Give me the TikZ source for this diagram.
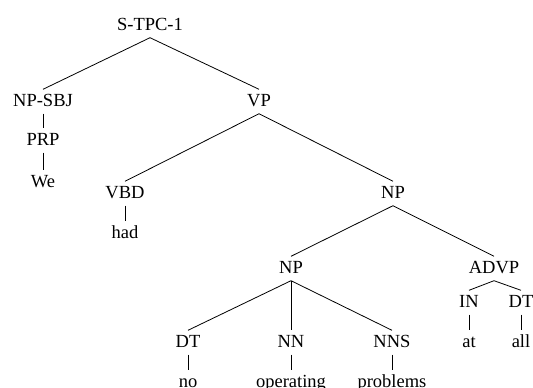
\documentclass[tikz,border=0pt]{standalone}
\usepackage{fontspec}
\setmainfont{Liberation Serif}
\begin{document}
\begin{tikzpicture}[x=1pt,y=-1pt,
  t/.style={anchor=base,text height=13pt,text depth=4pt,inner xsep=0pt,inner ysep=3.5pt,
    font=\fontsize{18.5}{20}\selectfont},
  edge/.style={draw=black,line width=0.8pt}]
\path[use as bounding box,clip] (0,0) rectangle (533,388);
\node[t] (s) at (150,30) {S-TPC-1};
\node[t] (npsbj) at (43,106) {NP-SBJ};
\node[t] (vp) at (259,106) {VP};
\node[t] (prp) at (43,145) {PRP};
\node[t] (we) at (43,187) {We};
\node[t] (vbd) at (125,198) {VBD};
\node[t] (np1) at (393,198) {NP};
\node[t] (had) at (125,238) {had};
\node[t] (np2) at (291,273) {NP};
\node[t] (advp) at (494,273) {ADVP};
\node[t] (in) at (469,307) {IN};
\node[t] (dt2) at (521,307) {DT};
\node[t] (at) at (469,347) {at};
\node[t] (all) at (521,347) {all};
\node[t] (dt1) at (188,347) {DT};
\node[t] (nn) at (291,347) {NN};
\node[t] (nns) at (392,347) {NNS};
\node[t] (no) at (188,387) {no};
\node[t] (op) at (291,387) {operating};
\node[t] (pr) at (392,387) {problems};
\path[edge] (s.south) -- (npsbj.north);
\path[edge] (s.south) -- (vp.north);
\path[edge] (npsbj.south) -- (prp.north);
\path[edge] (prp.south) -- (we.north);
\path[edge] (vp.south) -- (vbd.north);
\path[edge] (vp.south) -- (np1.north);
\path[edge] (vbd.south) -- (had.north);
\path[edge] (np1.south) -- (np2.north);
\path[edge] (np1.south) -- (advp.north);
\path[edge] (np2.south) -- (dt1.north);
\path[edge] (np2.south) -- (nn.north);
\path[edge] (np2.south) -- (nns.north);
\path[edge] (dt1.south) -- (no.north);
\path[edge] (nn.south) -- (op.north);
\path[edge] (nns.south) -- (pr.north);
\path[edge] (advp.south) -- (in.north);
\path[edge] (advp.south) -- (dt2.north);
\path[edge] (in.south) -- (at.north);
\path[edge] (dt2.south) -- (all.north);
\end{tikzpicture}
\end{document}
